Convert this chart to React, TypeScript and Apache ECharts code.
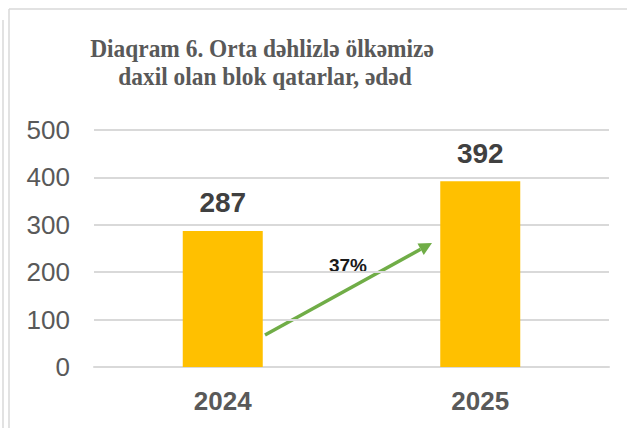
import React, { useEffect, useRef } from "react";
import * as echarts from "echarts";

const categories = ["2024", "2025"];
const values = [287, 392];
const yTicks = [0, 100, 200, 300, 400, 500];
const titleLines = ["Diaqram 6. Orta dəhlizlə ölkəmizə", "daxil olan blok qatarlar, ədəd"];
const growthLabel = "37%";

export default function App() {
  const ref = useRef<HTMLDivElement>(null);
  useEffect(() => {
    document.body.style.margin = "0";
    const chart = echarts.init(ref.current!, null, { renderer: "svg" });
    const sans = "Liberation Sans, Arial, sans-serif";
    const serif = "'Liberation Serif', 'DejaVu Serif', serif";
    // arrow geometry
    const x1 = 265, y1 = 335, tx = 432, ty = 243;
    const dx = tx - x1, dy = ty - y1;
    const len = Math.sqrt(dx * dx + dy * dy);
    const ux = dx / len, uy = dy / len;
    const hl = 13, hw = 6.5;
    const bx = tx - hl * ux, by = ty - hl * uy;
    const px = -uy, py = ux;
    chart.setOption({
      animation: false,
      backgroundColor: "#ffffff",
      grid: { left: 94, right: 18, top: 130, bottom: 61 },
      xAxis: {
        type: "category",
        data: categories,
        axisLine: { show: true, lineStyle: { color: "#d9d9d9", width: 2 } },
        axisTick: { show: false },
        axisLabel: { fontSize: 26, fontWeight: "bold", color: "#595959", fontFamily: sans, margin: 21 },
      },
      yAxis: {
        type: "value",
        min: yTicks[0],
        max: yTicks[yTicks.length - 1],
        interval: 100,
        axisLine: { show: false },
        axisTick: { show: false },
        splitLine: { lineStyle: { color: "#d9d9d9", width: 2 } },
        axisLabel: { fontSize: 26, color: "#595959", fontFamily: sans, margin: 24 },
      },
      series: [
        {
          type: "bar",
          data: values,
          barWidth: 80,
          itemStyle: { color: "#FFC000" },
          label: {
            show: true,
            position: "top",
            distance: 14,
            fontSize: 28,
            fontWeight: "bold",
            color: "#404040",
            fontFamily: sans,
          },
        },
      ],
      graphic: [
        { type: "line", shape: { x1: 3, y1: 20, x2: 3, y2: 428 }, style: { stroke: "#d9d9d9", lineWidth: 1.5 } },
        { type: "line", shape: { x1: 9, y1: 9, x2: 9, y2: 428 }, style: { stroke: "#d9d9d9", lineWidth: 1.5 } },
        { type: "line", shape: { x1: 9, y1: 9, x2: 627, y2: 9 }, style: { stroke: "#d9d9d9", lineWidth: 1.5 } },
        {
          type: "text", x: 262, y: 48, scaleX: 0.9,
          style: { text: titleLines[0], font: `bold 26px ${serif}`, fill: "#595959", align: "center", verticalAlign: "middle" },
        },
        {
          type: "text", x: 265, y: 76, scaleX: 0.9,
          style: { text: titleLines[1], font: `bold 26px ${serif}`, fill: "#595959", align: "center", verticalAlign: "middle" },
        },
        {
          type: "line", shape: { x1, y1, x2: bx, y2: by },
          style: { stroke: "#70AD47", lineWidth: 3.5 },
        },
        {
          type: "polygon",
          shape: { points: [[tx, ty], [bx + hw * px, by + hw * py], [bx - hw * px, by - hw * py]] },
          style: { fill: "#70AD47" },
        },
        {
          type: "text", x: 348, y: 265,
          style: {
            text: growthLabel, font: `bold 19px ${sans}`, fill: "#1a1a1a", align: "center", verticalAlign: "middle",
            backgroundColor: "#ffffff", padding: [1, 2],
          },
        },
      ],
    });
    return () => chart.dispose();
  }, []);
  return <div ref={ref} style={{ width: 627, height: 428, position: "absolute", left: 0, top: 0 }} />;
}
